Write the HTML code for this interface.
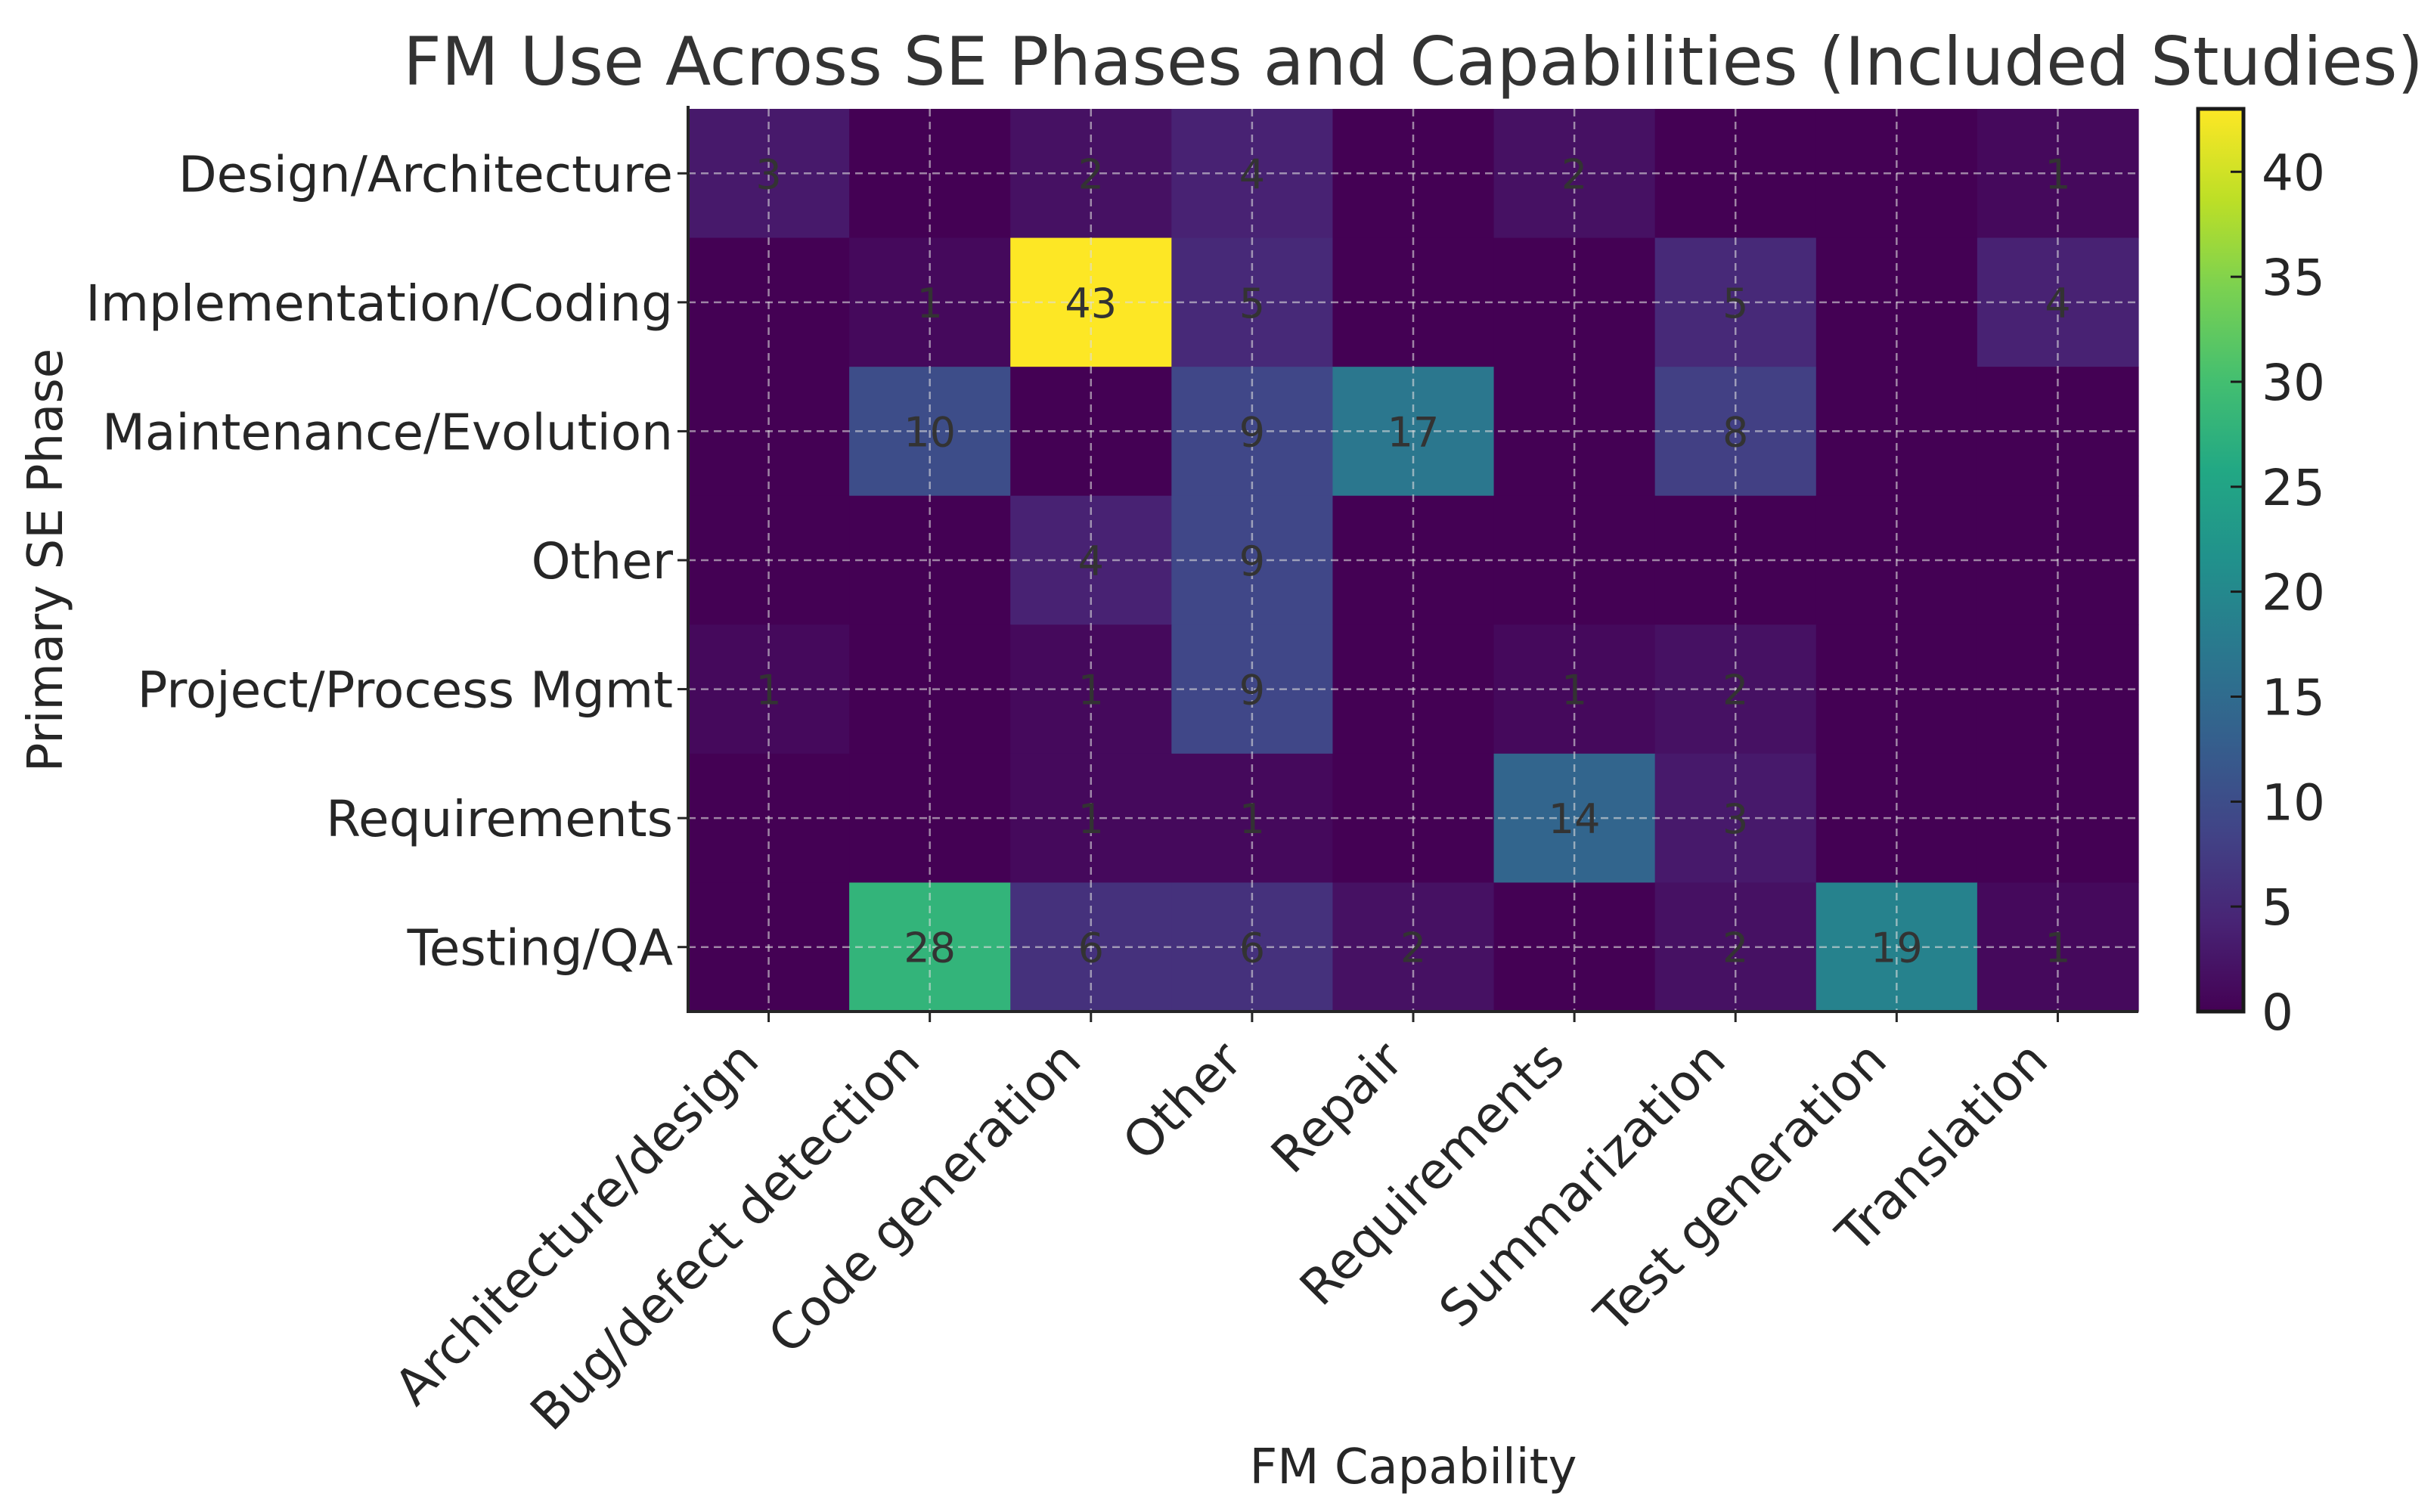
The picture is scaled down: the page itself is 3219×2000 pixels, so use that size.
<!DOCTYPE html>
<html><head><meta charset="utf-8"><style>
html,body{margin:0;padding:0;background:#fff;}
svg{display:block;font-family:"DejaVu Sans","Liberation Sans",sans-serif;}
</style></head><body>
<svg id="chart" width="3219" height="2000" viewBox="0 0 3219 2000" xmlns="http://www.w3.org/2000/svg">
<defs>
<linearGradient id="vir" x1="0" y1="1" x2="0" y2="0">
<stop offset="0" stop-color="#440154"/><stop offset="0.1" stop-color="#482475"/><stop offset="0.2" stop-color="#414487"/><stop offset="0.3" stop-color="#355f8d"/><stop offset="0.4" stop-color="#2a788e"/><stop offset="0.5" stop-color="#21918c"/><stop offset="0.6" stop-color="#22a884"/><stop offset="0.7" stop-color="#44bf70"/><stop offset="0.8" stop-color="#7ad151"/><stop offset="0.9" stop-color="#bddf26"/><stop offset="1" stop-color="#fde725"/>
</linearGradient>
</defs>
<text x="1869" y="112" font-size="88" fill="#333" text-anchor="middle">FM Use Across SE Phases and Capabilities (Included Studies)</text>
<g id="cells"></g>
<g id="grid"></g>
<g id="annots"></g>
<g id="axes"></g>
<g id="cbar"></g>
<text x="1869" y="1962" font-size="64" fill="#262626" text-anchor="middle">FM Capability</text>
<text transform="translate(82,741) rotate(-90)" font-size="64" fill="#262626" text-anchor="middle">Primary SE Phase</text>
</svg>
<script>
const phases = ["Design/Architecture","Implementation/Coding","Maintenance/Evolution","Other","Project/Process Mgmt","Requirements","Testing/QA"];
const capabilities = ["Architecture/design","Bug/defect detection","Code generation","Other","Repair","Requirements","Summarization","Test generation","Translation"];
const rowDesign = [3,0,2,4,0,2,0,0,1];
const rowImpl = [0,1,43,5,0,0,5,0,4];
const rowMaint = [0,10,0,9,17,0,8,0,0];
const rowOther = [0,0,4,9,0,0,0,0,0];
const rowProject = [1,0,1,9,0,1,2,0,0];
const rowReq = [0,0,1,1,0,14,3,0,0];
const rowTesting = [0,28,6,6,2,0,2,19,1];
const colorbarTicks = [0,5,10,15,20,25,30,35,40];

const matrix = [rowDesign,rowImpl,rowMaint,rowOther,rowProject,rowReq,rowTesting];
const NS = "http://www.w3.org/2000/svg";
const L=910, R=2828, T=144, B=1338;
const cw=(R-L)/capabilities.length, ch=(B-T)/phases.length;
const vmax = Math.max(...matrix.flat());
const xPos = i => L + cw*i;
const yPos = j => T + ch*j;
const stops=["#440154","#482475","#414487","#355f8d","#2a788e","#21918c","#22a884","#44bf70","#7ad151","#bddf26","#fde725"];
function hex(h){return [1,3,5].map(k=>parseInt(h.substr(k,2),16));}
function viridis(t){t=Math.max(0,Math.min(1,t));const p=t*10,i=Math.min(9,Math.floor(p)),f=p-i;const a=hex(stops[i]),b=hex(stops[i+1]);return "rgb("+a.map((v,k)=>Math.round(v+(b[k]-v)*f)).join(",")+")";}
function mk(tag,attrs,parent){const e=document.createElementNS(NS,tag);for(const k in attrs)e.setAttribute(k,attrs[k]);parent.appendChild(e);return e;}
const cells=document.getElementById('cells'), annots=document.getElementById('annots'), grid=document.getElementById('grid'), axes=document.getElementById('axes'), cbar=document.getElementById('cbar');
matrix.forEach((row,j)=>row.forEach((v,i)=>{
  const r=mk('rect',{x:xPos(i),y:yPos(j),width:cw+0.6,height:ch+0.6,fill:viridis(v/vmax)},cells);
  
  
  if(v>0){
    const t=mk('text',{x:xPos(i)+cw/2,y:yPos(j)+ch/2+20,'font-size':54,fill:'#333','text-anchor':'middle'},annots);
    t.textContent=v;
    
    
  }
}));
capabilities.forEach((c,i)=>{
  const x=xPos(i)+cw/2;
  const g=mk('line',{x1:x,y1:T,x2:x,y2:B,stroke:'rgba(220,220,220,0.6)','stroke-width':2.5,'stroke-dasharray':'10,7'},grid);
  
  
  const tk=mk('line',{x1:x,y1:B,x2:x,y2:B+14,stroke:'#262626','stroke-width':3},axes);
  
  
  const t=mk('text',{transform:`translate(${x-10},${B+68}) rotate(-45)`,'font-size':66,fill:'#262626','text-anchor':'end'},axes);
  t.textContent=c;
  
  
});
phases.forEach((p,j)=>{
  const y=yPos(j)+ch/2;
  const g=mk('line',{x1:L,y1:y,x2:R,y2:y,stroke:'rgba(220,220,220,0.6)','stroke-width':2.5,'stroke-dasharray':'10,7'},grid);
  
  
  const tk=mk('line',{x1:L-14,y1:y,x2:L,y2:y,stroke:'#262626','stroke-width':3},axes);
  
  
  const t=mk('text',{x:890,y:y+24,'font-size':66,fill:'#262626','text-anchor':'end'},axes);
  t.textContent=p;
  
  
});
const sl=mk('line',{x1:L,y1:T-4,x2:L,y2:B+2,stroke:'#262626','stroke-width':4},axes);


const sb=mk('line',{x1:L-2,y1:B,x2:R,y2:B,stroke:'#262626','stroke-width':4},axes);


const CL=2907, CR=2967, CT=T, CB=B;
const cy = v => CB - (CB-CT)*v/vmax;
const cr=mk('rect',{x:CL,y:CT,width:CR-CL,height:CB-CT,fill:'url(#vir)',stroke:'#1a1a1a','stroke-width':5},cbar);


colorbarTicks.forEach(v=>{
  const y=cy(v);
  const tk=mk('line',{x1:CR-17,y1:y,x2:CR,y2:y,stroke:'#1a1a1a','stroke-width':3},cbar);
  
  
  const t=mk('text',{x:2991,y:y+24,'font-size':66,fill:'#262626'},cbar);
  t.textContent=v;
  
  
});
</script>
</body></html>
